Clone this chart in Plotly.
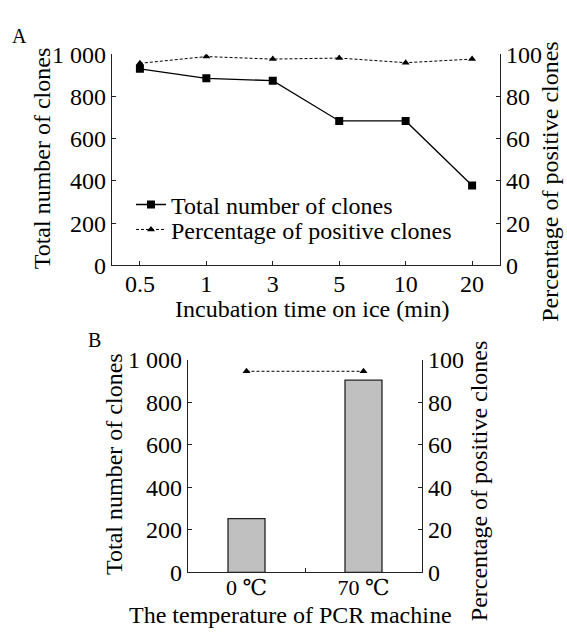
import plotly.graph_objects as go

# ---------------- data ----------------
times = ["0.5", "1", "3", "5", "10", "20"]
total_clones_a = [931, 886, 875, 684, 684, 378]
positive_pct_a = [95.7, 98.9, 97.7, 98.2, 96.0, 97.7]

temps = ["0 ℃", "70 ℃"]
total_clones_b = [253, 905]
positive_pct_b = [94.7, 94.7]

left_ticks = [0, 200, 400, 600, 800, 1000]
left_ticktext = ["0", "200", "400", "600", "800", "1 000"]
right_ticks = [0, 20, 40, 60, 80, 100]

W, H = 567, 641
FONT = "Liberation Serif, Noto Sans CJK SC, serif"
FONT_C = "Liberation Serif, DejaVu Serif, Noto Sans CJK SC, serif"
AX = "#222222"


def px(x):
    return x / W


def py(y):
    return 1 - y / H


fig = go.Figure()

# Panel A
fig.add_trace(go.Scatter(
    x=times, y=total_clones_a, mode="lines+markers", name="Total number of clones",
    line=dict(color="black", width=1.3), marker=dict(symbol="square", size=8, color="black"),
    xaxis="x", yaxis="y", legend="legend"))
fig.add_trace(go.Scatter(
    x=times, y=positive_pct_a, mode="lines+markers", name="Percentage of positive clones",
    line=dict(color="black", width=1, dash="3px,2px"),
    marker=dict(symbol="triangle-up", size=7, color="black"),
    xaxis="x", yaxis="y2", legend="legend2"))

# Panel B
fig.add_trace(go.Bar(
    x=temps, y=total_clones_b, width=0.316, marker=dict(color="#c0c0c0", line=dict(color="#222", width=1.3)),
    xaxis="x2", yaxis="y3", showlegend=False))
fig.add_trace(go.Scatter(
    x=temps, y=positive_pct_b, mode="lines+markers",
    line=dict(color="black", width=1, dash="3px,2px"),
    marker=dict(symbol="triangle-up", size=7, color="black"),
    xaxis="x2", yaxis="y4", showlegend=False))

common_axis = dict(showline=True, linecolor=AX, linewidth=1.3, showgrid=False, zeroline=False,
                   ticks="inside", ticklen=4, tickcolor=AX, tickwidth=1.3,
                   tickfont=dict(family=FONT, size=24, color="black"))

fig.update_layout(
    width=W, height=H, autosize=False,
    margin=dict(l=0, r=0, t=0, b=0),
    paper_bgcolor="white", plot_bgcolor="white",
    font=dict(family=FONT, size=24, color="black"),
    xaxis=dict(domain=[px(112), px(500)], anchor="y", type="category",
               range=[-0.42, 5.42], ticklabelstandoff=-3, **common_axis),
    yaxis=dict(domain=[py(263), py(43)], anchor="x", range=[0, 1000],
               tickvals=left_ticks, ticktext=left_ticktext, **common_axis),
    yaxis2=dict(overlaying="y", side="right", anchor="x", range=[0, 100],
                tickvals=right_ticks, **common_axis),
    xaxis2=dict(domain=[px(188), px(422)], anchor="y3", type="category",
                range=[-0.5, 1.5], tickson="boundaries", ticklabelstandoff=-5, **common_axis),
    yaxis3=dict(domain=[py(583), py(361.7)], anchor="x2", range=[0, 1000],
                tickvals=left_ticks, ticktext=left_ticktext, **common_axis),
    yaxis4=dict(overlaying="y3", side="right", anchor="x2", range=[0, 100],
                tickvals=right_ticks, **common_axis),
    legend=dict(x=px(131), y=py(200), xanchor="left", yanchor="middle",
                bgcolor="rgba(0,0,0,0)", font=dict(family=FONT, size=24, color="black"),
                borderwidth=0, tracegroupgap=0),
    legend2=dict(x=px(131), y=py(226), xanchor="left", yanchor="middle",
                 bgcolor="rgba(0,0,0,0)", font=dict(family=FONT, size=24, color="black"),
                 borderwidth=0, tracegroupgap=0),
)
fig.update_xaxes(selector=dict(anchor="y3"), tickfont=dict(family=FONT_C, size=22, color="black"))

ann = [
    ("A", 19, 24, 0, 20),
    ("B", 94, 341, 0, 20),
    ("Total number of clones", 41.5, 152, -90, 24),
    ("Percentage of positive clones", 550, 176, -90, 24),
    ("Incubation time on ice (min)", 312.7, 309, 0, 24),
    ("Total number of clones", 114, 470, -90, 24),
    ("Percentage of positive clones", 479, 488, -90, 24),
    ("The temperature of PCR machine", 290, 627, 0, 24),
]
for text, x, y, ang, size in ann:
    fig.add_annotation(text=text, x=px(x), y=py(y), xref="paper", yref="paper",
                       xanchor="center", yanchor="middle", showarrow=False, textangle=ang,
                       font=dict(family=FONT, size=size, color="black"))

fig.write_html("out.html", config={"displayModeBar": False},
               post_script="document.body.style.margin='0';document.body.style.overflow='hidden';")
